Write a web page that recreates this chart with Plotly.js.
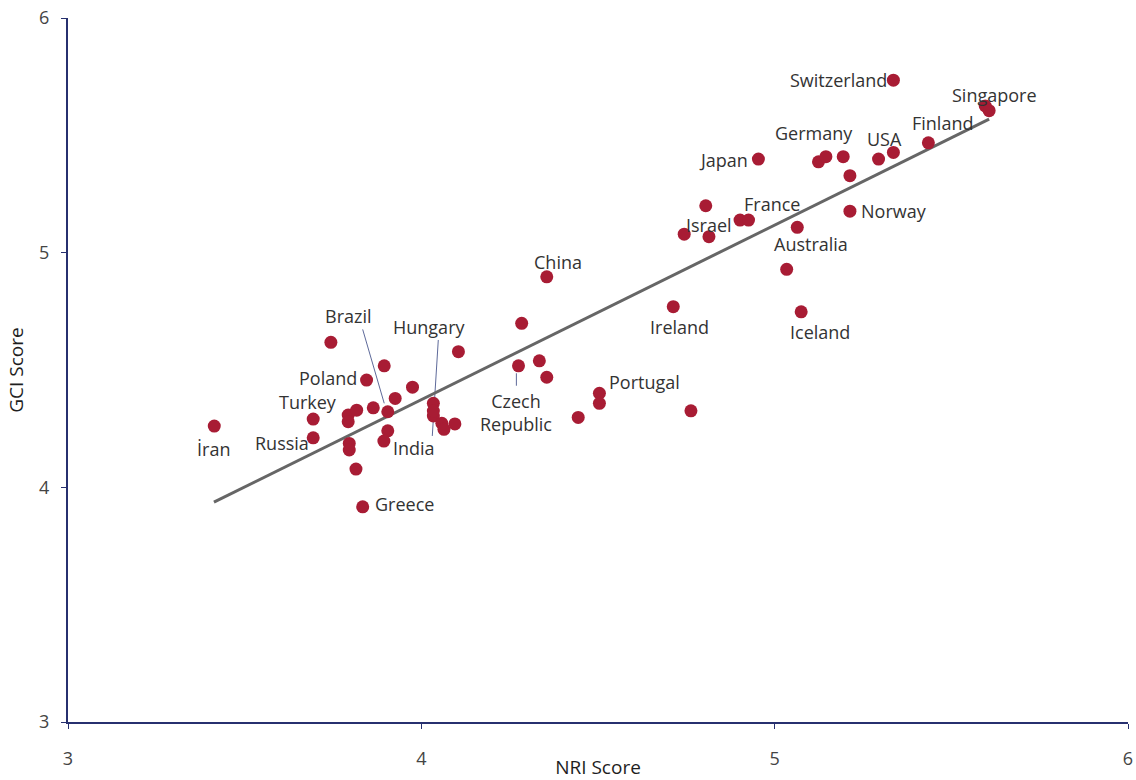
<!DOCTYPE html>
<html>
<head>
<meta charset="utf-8">
<script src="https://cdn.plot.ly/plotly-3.0.1.min.js"></script>
<style>html,body{margin:0;padding:0;background:#fff}#chart{width:1136px;height:780px}</style>
</head>
<body>
<div id="chart"></div>
<script>
// NRI (x) and GCI (y) scores per country
var nri = [3.414,3.694,3.694,3.744,3.845,3.895,3.793,3.817,3.793,3.796,3.796,3.815,3.834,3.864,3.905,3.926,3.975,3.905,3.894,4.105,4.034,4.034,4.034,4.058,4.064,4.095,4.355,4.284,4.275,4.334,4.355,4.444,4.504,4.504,4.763,4.713,4.744,4.814,4.805,4.902,4.926,4.954,5.034,5.064,5.075,5.124,5.145,5.194,5.213,5.213,5.294,5.336,5.336,5.435,5.596,5.607];
var gci = [4.261,4.211,4.291,4.618,4.457,4.518,4.308,4.329,4.280,4.187,4.159,4.078,3.917,4.339,4.322,4.379,4.427,4.241,4.197,4.578,4.358,4.304,4.325,4.273,4.247,4.270,4.897,4.699,4.518,4.539,4.469,4.298,4.401,4.358,4.326,4.770,5.079,5.068,5.200,5.139,5.139,5.399,4.929,5.108,4.748,5.387,5.409,5.409,5.328,5.177,5.399,5.427,5.735,5.468,5.625,5.605];

// Trend line end points
var trendX = [3.413, 5.607];
var trendY = [3.937, 5.569];

// Country labels
var labelText = ["İran","Russia","Turkey","Poland","Brazil","Hungary","India","Greece","China","Czech<br>Republic","Portugal","Ireland","Israel","France","Japan","Australia","Iceland","Norway","Germany","USA","Finland","Switzerland","Singapore"];
var labelX = [3.413,3.606,3.679,3.736,3.793,4.022,3.979,3.951,4.387,4.268,4.633,4.732,4.814,4.993,4.854,5.103,5.129,5.338,5.112,5.310,5.474,5.182,5.621];
var labelY = [4.163,4.189,4.363,4.466,4.730,4.683,4.167,3.929,4.960,4.321,4.449,4.683,5.118,5.207,5.395,5.037,4.662,5.177,5.510,5.484,5.552,5.735,5.671];

// Leader lines (label -> point)
var leaders = [
  {x:[3.834,3.895], y:[4.673,4.358]},
  {x:[4.048,4.031], y:[4.628,4.219]},
  {x:[4.269,4.269], y:[4.486,4.433]}
];

var axisColor = '#27306f';
var traces = [];
leaders.forEach(function(l){
  traces.push({x:l.x, y:l.y, mode:'lines', type:'scatter', hoverinfo:'skip',
    line:{color:'#34427f', width:0.8}, showlegend:false});
});
traces.push({x:trendX, y:trendY, mode:'lines', type:'scatter', line:{color:'#666666', width:3}, showlegend:false, hoverinfo:'skip'});
traces.push({x:nri, y:gci, mode:'markers', type:'scatter', marker:{color:'#a81c34', size:13}, showlegend:false});

var annotations = labelText.map(function(t,i){
  return {x:labelX[i], y:labelY[i], xref:'x', yref:'y', text:t, showarrow:false,
    font:{family:'Open Sans, sans-serif', size:18, color:'#333333'}};
});

var layout = {
  width:1136, height:780,
  margin:{l:68, r:8, t:18, b:58},
  paper_bgcolor:'#ffffff', plot_bgcolor:'#ffffff',
  font:{family:'Open Sans, sans-serif', color:'#444444'},
  xaxis:{range:[3,6], tickvals:[3,4,5,6], showgrid:false, zeroline:false,
    showline:true, linecolor:axisColor, linewidth:2, ticks:'outside', ticklen:5, tickcolor:axisColor, tickwidth:1,
    tickfont:{size:18, color:'#444444'}, ticklabelstandoff:14,
    title:{text:'NRI Score', font:{size:19, color:'#1e1e1e'}, standoff:2}},
  yaxis:{range:[3,6], tickvals:[3,4,5,6], showgrid:false, zeroline:false,
    showline:true, linecolor:axisColor, linewidth:2, ticks:'outside', ticklen:5, tickcolor:axisColor, tickwidth:1,
    tickfont:{size:18, color:'#444444'}, ticklabelstandoff:8,
    title:{text:'GCI Score', font:{size:19, color:'#1e1e1e'}, standoff:10}},
  annotations:annotations
};
Plotly.newPlot('chart', traces, layout, {displayModeBar:false, staticPlot:true});
</script>
</body>
</html>
